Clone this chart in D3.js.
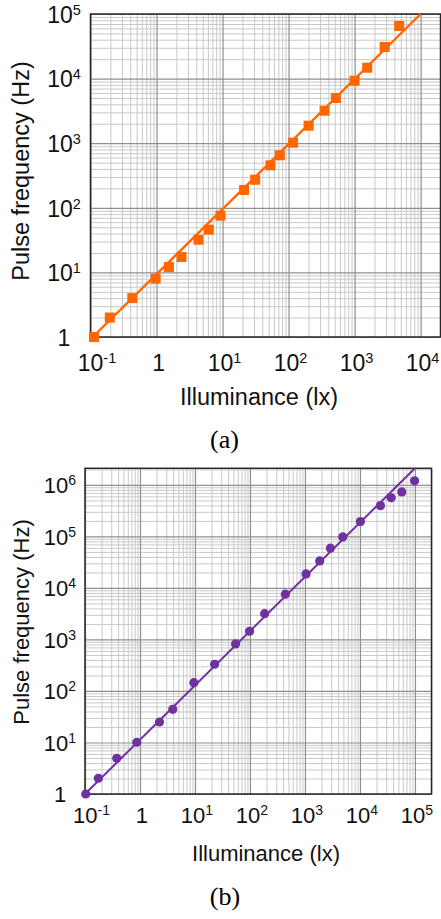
<!DOCTYPE html>
<html>
<head>
<meta charset="utf-8">
<script src="https://cdn.jsdelivr.net/npm/d3@7"></script>
<style>
  body { margin: 0; background: #fff; }
  svg { display: block; font-family: 'Liberation Sans', Arial, sans-serif; }
</style>
</head>
<body>
<svg id="chart" width="441" height="919"></svg>
<script>
// panel (a): orange squares
const luxA = [0.113, 0.196, 0.43, 0.97, 1.54, 2.39, 4.33, 6.2, 9.3, 21.2, 31.2, 53.3, 73.8, 117, 201, 351, 521, 1000, 1552, 2849, 4740]
const freqA = [1, 2, 4, 8, 12.1, 17.3, 32, 45.8, 75.5, 189, 272, 455, 650, 1018, 1866, 3186, 5010, 9270, 14750, 30840, 65200]
const fitLuxA = [0.108, 10000]
const fitFreqA = [1, 100000]
const xTickExpA = [-1, 0, 1, 2, 3, 4]
const yTickExpA = [0, 1, 2, 3, 4, 5]

// panel (b): purple dots
const luxB = [0.103, 0.175, 0.378, 0.875, 2.26, 3.95, 9.55, 22.7, 54.7, 98.4, 184.6, 440, 1047, 1853, 2904, 4865, 10200, 23600, 36970, 57700, 98400]
const freqB = [1, 2.02, 4.93, 10.1, 25, 44, 145, 330, 818, 1443, 3170, 7550, 18700, 33400, 59000, 97800, 194000, 396000, 560000, 731000, 1200000]
const fitLuxB = [0.1, 100000]
const fitFreqB = [1, 2100000]
const xTickExpB = [-1, 0, 1, 2, 3, 4, 5]
const yTickExpB = [0, 1, 2, 3, 4, 5, 6]

const xTitle = 'Illuminance (lx)'
const yTitle = 'Pulse frequency (Hz)'

const svg = d3.select('#chart')

function isMajor(v) {
  const e = Math.log10(v)
  return Math.abs(e - Math.round(e)) < 1e-9
}

function writeLabel(text, v, supSize) {
  const e = Math.round(Math.log10(v))
  text.text(null)
  if (e === 0) {
    text.append('tspan').text('1')
    return
  }
  text.append('tspan').text('10')
  text.append('tspan')
    .attr('dy', -8)
    .style('font-size', supSize + 'px')
    .text(String(e))
}

function drawPanel(p) {
  const w = p.right - p.left
  const h = p.bottom - p.top
  const g = svg.append('g').attr('transform', `translate(${p.left},${p.top})`)

  const x = d3.scaleLog().domain(p.xDomain).range([0, w])
  const y = d3.scaleLog().domain(p.yDomain).range([h, 0])

  const xAll = x.ticks()
  const yAll = y.ticks()

  // minor grid first, major on top
  g.append('g')
    .attr('class', 'grid x-minor')
    .attr('transform', 'translate(0,' + h + ')')
    .call(d3.axisBottom(x).tickValues(xAll.filter(v => !isMajor(v))).tickSize(-h).tickFormat(''))
  g.append('g')
    .attr('class', 'grid y-minor')
    .call(d3.axisLeft(y).tickValues(yAll.filter(v => !isMajor(v))).tickSize(-w).tickFormat(''))
  g.selectAll('.grid line').attr('stroke', '#c9c9c9').attr('stroke-width', 1)

  g.append('g')
    .attr('class', 'grid-major x-major')
    .attr('transform', 'translate(0,' + h + ')')
    .call(d3.axisBottom(x).tickValues(xAll.filter(isMajor)).tickSize(-h).tickFormat(''))
  g.append('g')
    .attr('class', 'grid-major y-major')
    .call(d3.axisLeft(y).tickValues(yAll.filter(isMajor)).tickSize(-w).tickFormat(''))
  g.selectAll('.grid-major line').attr('stroke', '#8f8f8f').attr('stroke-width', 1.2)
  g.selectAll('.grid .domain, .grid-major .domain').remove()

  g.append('rect')
    .attr('width', w)
    .attr('height', h)
    .attr('fill', 'none')
    .attr('stroke', '#262626')
    .attr('stroke-width', 1.5)

  // fitted line
  const fit = p.fitLux.map((v, i) => [v, p.fitFreq[i]])
  g.append('path')
    .datum(fit)
    .attr('fill', 'none')
    .attr('stroke', p.color)
    .attr('stroke-width', p.lineWidth)
    .attr('d', d3.line().x(d => x(d[0])).y(d => y(d[1])))

  const pts = p.lux.map((v, i) => ({ lux: v, freq: p.freq[i] }))
  if (p.marker === 'square') {
    g.selectAll('rect.pt')
      .data(pts)
      .enter()
      .append('rect')
      .attr('class', 'pt')
      .attr('x', d => x(d.lux) - 5)
      .attr('y', d => y(d.freq) - 5)
      .attr('width', 10)
      .attr('height', 10)
      .attr('fill', p.color)
  } else {
    g.selectAll('circle.pt')
      .data(pts)
      .enter()
      .append('circle')
      .attr('class', 'pt')
      .attr('cx', d => x(d.lux))
      .attr('cy', d => y(d.freq))
      .attr('r', 4.6)
      .attr('fill', p.color)
  }

  // tick labels
  const xAxis = d3.axisBottom(x)
    .tickValues(p.xTickExp.map(e => Math.pow(10, e)))
    .tickSize(0)
    .tickFormat('')
  const xg = g.append('g')
    .attr('class', 'axis x-axis')
    .attr('transform', 'translate(0,' + h + ')')
    .call(xAxis)
  xg.select('.domain').remove()
  xg.attr('font-family', null).attr('font-size', null)
  xg.selectAll('.tick text')
    .attr('y', p.xLabelY)
    .attr('dy', 0)
    .attr('dx', d => (d < 1 ? 6 : 1.5))
    .attr('fill', '#111')
    .style('font-size', p.tickSize + 'px')
    .each(function(d) { writeLabel(d3.select(this), d, p.supSize) })

  const yAxis = d3.axisLeft(y)
    .tickValues(p.yTickExp.map(e => Math.pow(10, e)))
    .tickSize(0)
    .tickFormat('')
  const yg = g.append('g')
    .attr('class', 'axis y-axis')
    .call(yAxis)
  yg.select('.domain').remove()
  yg.attr('font-family', null).attr('font-size', null)
  yg.selectAll('.tick text')
    .attr('x', p.yLabelX)
    .attr('dy', '0.36em')
    .attr('text-anchor', 'middle')
    .attr('fill', '#111')
    .style('font-size', p.tickSize + 'px')
    .each(function(d) { writeLabel(d3.select(this), d, p.supSize) })

  svg.append('text')
    .attr('x', p.xTitlePos[0])
    .attr('y', p.xTitlePos[1])
    .attr('text-anchor', 'middle')
    .attr('fill', '#111')
    .style('font-size', p.titleSize + 'px')
    .text(xTitle)

  svg.append('text')
    .attr('transform', `translate(${p.yTitlePos[0]},${p.yTitlePos[1]}) rotate(-90)`)
    .attr('text-anchor', 'middle')
    .attr('fill', '#111')
    .style('font-size', p.titleSize + 'px')
    .text(yTitle)

  svg.append('text')
    .attr('x', p.capPos[0])
    .attr('y', p.capPos[1])
    .attr('text-anchor', 'middle')
    .attr('fill', '#000')
    .style('font-family', "'Liberation Serif', 'Times New Roman', serif")
    .style('font-size', '26px')
    .text(p.caption)
}

drawPanel({
  left: 90.5, right: 440.5, top: 14, bottom: 337,
  xDomain: [0.1, 20000], yDomain: [1, 100000],
  lux: luxA, freq: freqA, fitLux: fitLuxA, fitFreq: fitFreqA,
  xTickExp: xTickExpA, yTickExp: yTickExpA,
  color: '#ff6600', lineWidth: 2.4, marker: 'square',
  tickSize: 23, supSize: 14.5, titleSize: 23.5,
  xLabelY: 34, yLabelX: -26.5,
  xTitlePos: [259, 405], yTitlePos: [29, 171],
  capPos: [224.5, 448], caption: '(a)'
})

drawPanel({
  left: 85, right: 431.5, top: 468.3, bottom: 794,
  xDomain: [0.1, 200000], yDomain: [1, 2100000],
  lux: luxB, freq: freqB, fitLux: fitLuxB, fitFreq: fitFreqB,
  xTickExp: xTickExpB, yTickExp: yTickExpB,
  color: '#7030a0', lineWidth: 2, marker: 'circle',
  tickSize: 22, supSize: 14, titleSize: 22,
  xLabelY: 29, yLabelX: -25,
  xTitlePos: [266, 861], yTitlePos: [29, 622],
  capPos: [225, 905], caption: '(b)'
})
</script>
</body>
</html>
